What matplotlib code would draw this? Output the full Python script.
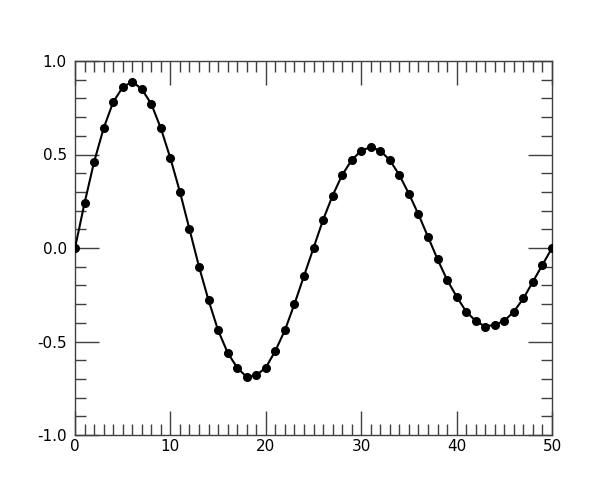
import matplotlib

matplotlib.use("Agg")
import matplotlib.pyplot as plt
from matplotlib.ticker import MultipleLocator

# values, one point per integer x
x_vals = list(range(51))
y_vals = [
    0.00, 0.24, 0.46, 0.64, 0.78, 0.86, 0.89, 0.85, 0.77, 0.64,
    0.48, 0.30, 0.10, -0.10, -0.28, -0.44, -0.56, -0.64, -0.69, -0.68,
    -0.64, -0.55, -0.44, -0.30, -0.15, 0.00, 0.15, 0.28, 0.39, 0.47,
    0.52, 0.54, 0.52, 0.47, 0.39, 0.29, 0.18, 0.06, -0.06, -0.17,
    -0.26, -0.34, -0.39, -0.42, -0.41, -0.39, -0.34, -0.27, -0.18, -0.09,
    0.00,
]
y_ticks = [-1.0, -0.5, 0.0, 0.5, 1.0]
y_ticklabels = ["-1.0", "-0.5", "0.0", "0.5", "1.0"]

plt.rcParams["axes.unicode_minus"] = False

fig = plt.figure(figsize=(6, 5), dpi=100)
ax = fig.add_axes([0.125, 0.13, 0.795, 0.748])

# markers at the x limits get cut in half by the axes, as in the reference
ax.plot(x_vals, y_vals, color="black", lw=1.5, marker="o", ms=5.5, zorder=3)

ax.set_xlim(0, 50)
ax.set_ylim(-1.0, 1.0)
ax.xaxis.set_major_locator(MultipleLocator(10))
ax.xaxis.set_minor_locator(MultipleLocator(1))
ax.set_yticks(y_ticks)
ax.set_yticklabels(y_ticklabels)
ax.yaxis.set_minor_locator(MultipleLocator(0.1))

ax.tick_params(which="both", direction="in", top=True, right=True,
               color="0.25", labelsize=11)
ax.tick_params(which="major", length=17, width=1)
ax.tick_params(which="minor", length=8, width=1)
ax.tick_params(axis="y", which="major", pad=6)
ax.tick_params(axis="x", which="major", pad=3)
for sp in ax.spines.values():
    sp.set_color("0.25")
    sp.set_linewidth(1)

fig.savefig("out.png", dpi=100)
